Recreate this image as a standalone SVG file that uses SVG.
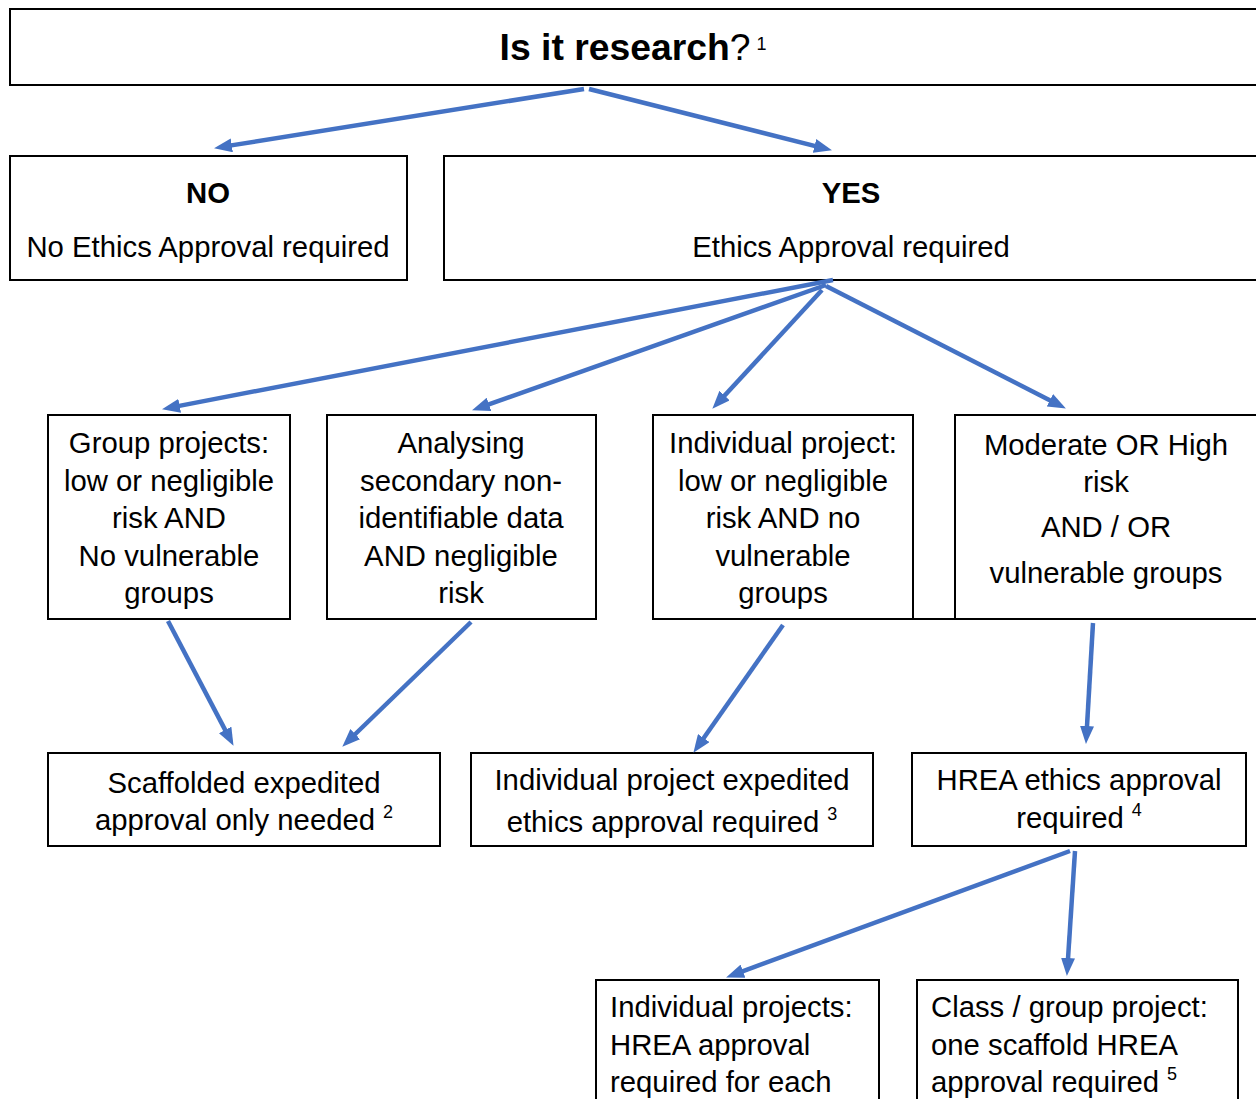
<svg xmlns="http://www.w3.org/2000/svg" width="1256" height="1099" viewBox="0 0 1256 1099">
<defs>
<style>
.box{fill:#fff;stroke:#000;stroke-width:2}
text{font-family:"Liberation Sans",Arial,sans-serif;font-size:29.3px;fill:#000}
.c{text-anchor:middle}
.b{font-weight:bold}
.sup{font-size:18px}
.conn line{stroke:#4472C4;stroke-width:4.5;marker-end:url(#ah)}
</style>
<marker id="ah" markerUnits="userSpaceOnUse" viewBox="0 0 18 14" markerWidth="18" markerHeight="14" refX="7" refY="7" orient="auto">
<path d="M0,0 L18,7 L0,14 z" fill="#4472C4"/>
</marker>
</defs>
<rect width="1256" height="1099" fill="#fff"/>

<g id="n-research">
<rect class="box" x="10" y="9" width="1260" height="76"/>
<text class="c" x="633" y="60"><tspan class="b" font-size="37.3px">Is it research</tspan><tspan font-size="37.3px">?</tspan><tspan class="sup" dx="6" dy="-10">1</tspan></text>
</g>

<g id="n-no">
<rect class="box" x="10" y="156" width="397" height="124"/>
<text class="c b" x="208" y="203">NO</text>
<text class="c" x="208" y="257">No Ethics Approval required</text>
</g>

<g id="n-yes">
<rect class="box" x="444" y="156" width="830" height="124"/>
<text class="c b" x="851" y="203">YES</text>
<text class="c" x="851" y="257">Ethics Approval required</text>
</g>

<g id="n-group">
<rect class="box" x="48" y="415" width="242" height="204"/>
<text class="c" x="169" y="453">Group projects:</text>
<text class="c" x="169" y="491">low or negligible</text>
<text class="c" x="169" y="528">risk AND</text>
<text class="c" x="169" y="566">No vulnerable</text>
<text class="c" x="169" y="603">groups</text>
</g>

<g id="n-secondary">
<rect class="box" x="327" y="415" width="269" height="204"/>
<text class="c" x="461" y="453">Analysing</text>
<text class="c" x="461" y="491">secondary non-</text>
<text class="c" x="461" y="528">identifiable data</text>
<text class="c" x="461" y="566">AND negligible</text>
<text class="c" x="461" y="603">risk</text>
</g>

<g id="n-individual">
<rect class="box" x="653" y="415" width="260" height="204"/>
<text class="c" x="783" y="453">Individual project:</text>
<text class="c" x="783" y="491">low or negligible</text>
<text class="c" x="783" y="528">risk AND no</text>
<text class="c" x="783" y="566">vulnerable</text>
<text class="c" x="783" y="603">groups</text>
</g>

<g id="n-moderate">
<rect class="box" x="955" y="415" width="320" height="204"/>
<line x1="913" y1="619" x2="955" y2="619" stroke="#000" stroke-width="2"/>
<text class="c" x="1106" y="455">Moderate OR High</text>
<text class="c" x="1106" y="492">risk</text>
<text class="c" x="1106" y="537">AND / OR</text>
<text class="c" x="1106" y="583">vulnerable groups</text>
</g>

<g id="n-scaffolded">
<rect class="box" x="48" y="753" width="392" height="93"/>
<text class="c" x="244" y="793">Scaffolded expedited</text>
<text class="c" x="244" y="830">approval only needed<tspan class="sup" dx="8" dy="-12">2</tspan></text>
</g>

<g id="n-indexpedited">
<rect class="box" x="471" y="753" width="402" height="93"/>
<text class="c" x="672" y="790">Individual project expedited</text>
<text class="c" x="672" y="832">ethics approval required<tspan class="sup" dx="8" dy="-12">3</tspan></text>
</g>

<g id="n-hrea">
<rect class="box" x="912" y="753" width="334" height="93"/>
<text class="c" x="1079" y="790">HREA ethics approval</text>
<text class="c" x="1079" y="828">required<tspan class="sup" dx="8" dy="-12">4</tspan></text>
</g>

<g id="n-indhrea">
<rect class="box" x="596" y="980" width="283" height="140"/>
<text x="610" y="1017">Individual projects:</text>
<text x="610" y="1055">HREA approval</text>
<text x="610" y="1092">required for each</text>
</g>

<g id="n-classhrea">
<rect class="box" x="917" y="980" width="321" height="140"/>
<text x="931" y="1017">Class / group project:</text>
<text x="931" y="1055">one scaffold HREA</text>
<text x="931" y="1092">approval required<tspan class="sup" dx="8" dy="-12">5</tspan></text>
</g>

<g id="connectors" class="conn">
<line x1="584" y1="89" x2="224.9" y2="146.4"/>
<line x1="589" y1="89" x2="821.3" y2="147.6"/>
<line x1="833" y1="280" x2="172.8" y2="407.1"/>
<line x1="826" y1="285" x2="482.4" y2="406.7"/>
<line x1="822" y1="290" x2="719.8" y2="400.7"/>
<line x1="826" y1="286" x2="1056.1" y2="403.5"/>
<line x1="168" y1="621" x2="228.4" y2="736.1"/>
<line x1="471" y1="622" x2="350.2" y2="739"/>
<line x1="783" y1="625" x2="699.7" y2="743.8"/>
<line x1="1093" y1="623" x2="1086.6" y2="733"/>
<line x1="1070" y1="851" x2="736.4" y2="973.6"/>
<line x1="1075" y1="851" x2="1067.6" y2="965"/>
</g>
</svg>
